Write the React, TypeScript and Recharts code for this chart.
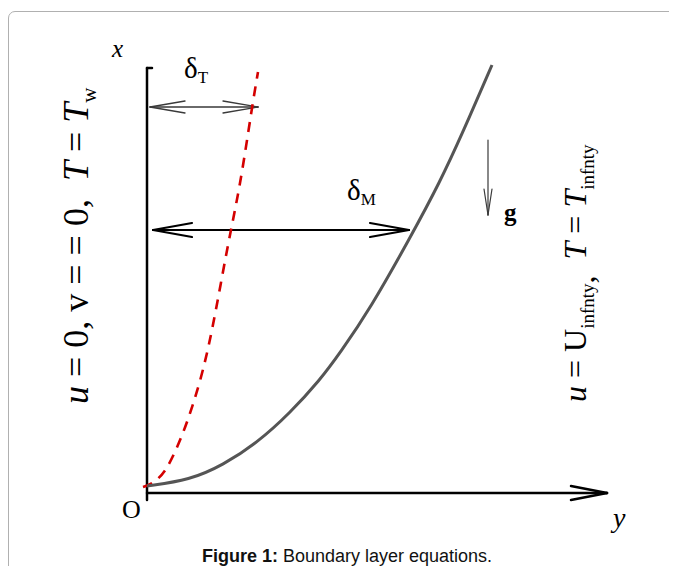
import React from 'react';
import { ComposedChart, Line, XAxis, YAxis, ReferenceLine } from 'recharts';

// distance from the wall (y, horizontal) and height along the wall (x, vertical)
const momentumY = [0, 43, 76, 110, 143, 173, 193, 223, 263, 293, 316, 345];
const momentumX = [7, 13, 28, 50, 80, 113, 140, 184, 255, 311, 361, 428];
const thermalY = [-4, 5, 18, 30, 40, 53, 65, 81, 93, 105, 111];
const thermalX = [6, 9, 20, 45, 70, 110, 160, 250, 306, 386, 421];

// arrow ends [fromY, fromX, toY, toX]
const axisYArrow = [0, 0, 460, 0];
const axisXLine = [0, -7, 0, 425];
const deltaTArrow = [3, 386, 111, 386];
const deltaMArrow = [6, 263, 262, 263];
const gravityArrow = [341, 353, 341, 278];

const momentumData = momentumY.map((h, i) => ({ h, v: momentumX[i] }));
const thermalData = thermalY.map((h, i) => ({ h, v: thermalX[i] }));

type Seg = [{ x: number; y: number }, { x: number; y: number }];

// open V arrowhead at the "to" end of an arrow
const head = (a: number[], len: number, half: number, atStart = false): Seg[] => {
    const [x1, y1, x2, y2] = atStart ? [a[2], a[3], a[0], a[1]] : a;
    const L = Math.hypot(x2 - x1, y2 - y1);
    const dx = (x2 - x1) / L, dy = (y2 - y1) / L;
    const bx = x2 - dx * len, by = y2 - dy * len;
    return [
        [{ x: x2, y: y2 }, { x: bx - dy * half, y: by + dx * half }],
        [{ x: x2, y: y2 }, { x: bx + dy * half, y: by - dx * half }],
    ];
};
const shaft = (a: number[]): Seg => [{ x: a[0], y: a[1] }, { x: a[2], y: a[3] }];

const serif = '"Liberation Serif", "Times New Roman", serif';

const App: React.FC = () => {
    const thin = '#3a3a3a';
    const arrows: { segs: Seg[]; stroke: string; width: number }[] = [
        { segs: [shaft(axisYArrow), ...head(axisYArrow, 36, 7)], stroke: '#000', width: 2.5 },
        { segs: [shaft(axisXLine), [{ x: 0, y: 425 }, { x: 5, y: 425 }]], stroke: '#000', width: 2.5 },
        { segs: [shaft(deltaTArrow), ...head(deltaTArrow, 35, 6), ...head(deltaTArrow, 35, 6, true)], stroke: thin, width: 1.3 },
        { segs: [shaft(deltaMArrow), ...head(deltaMArrow, 39, 7), ...head(deltaMArrow, 39, 7, true)], stroke: '#000', width: 2.2 },
        { segs: [shaft(gravityArrow), ...head(gravityArrow, 26, 4)], stroke: thin, width: 1.2 },
    ];

    return (
        <div style={{ position: 'relative', width: 677, height: 574, margin: -8, overflow: 'hidden', background: '#fff' }}>
            <div style={{
                position: 'absolute', left: 8, top: 11, width: 720, height: 620,
                border: '1px solid #b0b0b0', borderRadius: 7,
            }} />
            <div style={{ position: 'absolute', left: 0, top: 0 }}>
                <ComposedChart width={677} height={574} margin={{ top: 0, right: 0, bottom: 0, left: 0 }}>
                    <XAxis type="number" dataKey="h" domain={[-147, 530]} hide allowDataOverflow />
                    <YAxis type="number" dataKey="v" domain={[-81, 493]} hide allowDataOverflow />
                    {arrows.map((a, i) =>
                        a.segs.map((s, j) => (
                            <ReferenceLine
                                key={`a${i}-${j}`}
                                segment={s}
                                stroke={a.stroke}
                                strokeWidth={a.width}
                                strokeLinecap="round"
                                ifOverflow="visible"
                            />
                        ))
                    )}
                    <Line data={thermalData} dataKey="v" type="basis" stroke="#d40000" strokeWidth={2.6}
                        strokeDasharray="10 8" dot={false} isAnimationActive={false} />
                    <Line data={momentumData} dataKey="v" type="basis" stroke="#555555" strokeWidth={3}
                        dot={false} isAnimationActive={false} />
                </ComposedChart>
            </div>
            <svg width={677} height={574} style={{ position: 'absolute', left: 0, top: 0, pointerEvents: 'none' }}
                fontFamily={serif} fill="#000">
                <text x={112} y={57} fontSize={25} fontStyle="italic">x</text>
                <text x={184} y={78} fontSize={29}>δ<tspan fontSize={17} dy={5}>T</tspan></text>
                <text x={347} y={200} fontSize={29}>δ<tspan fontSize={17} dy={5}>M</tspan></text>
                <text x={504} y={221} fontSize={25} fontWeight="bold">g</text>
                <text x={122} y={518} fontSize={26}>O</text>
                <text x={613} y={527} fontSize={28} fontStyle="italic">y</text>
                <text x={88} y={404} fontSize={36} transform="rotate(-90 88 404)" style={{ whiteSpace: 'pre' }}>
                    <tspan fontStyle="italic">u</tspan> = 0, v = = 0,  <tspan fontStyle="italic">T</tspan> = <tspan fontStyle="italic">T</tspan><tspan fontSize={21} dy={8}>w</tspan>
                </text>
                <text x={586} y={402} fontSize={32} transform="rotate(-90 586 402)" style={{ whiteSpace: 'pre' }}>
                    <tspan fontStyle="italic">u</tspan> = U<tspan fontSize={19} dy={8}>infnty</tspan>,<tspan dy={-8}>  </tspan><tspan fontStyle="italic">T</tspan> = <tspan fontStyle="italic">T</tspan><tspan fontSize={19} dy={8}>infnty</tspan>
                </text>
            </svg>
            <div style={{
                position: 'absolute', left: 0, width: 694, top: 546, textAlign: 'center',
                fontFamily: '"Liberation Sans", Arial, sans-serif', fontSize: 18, color: '#111',
            }}>
                <b>Figure 1:</b> Boundary layer equations.
            </div>
        </div>
    );
};

export default App;
